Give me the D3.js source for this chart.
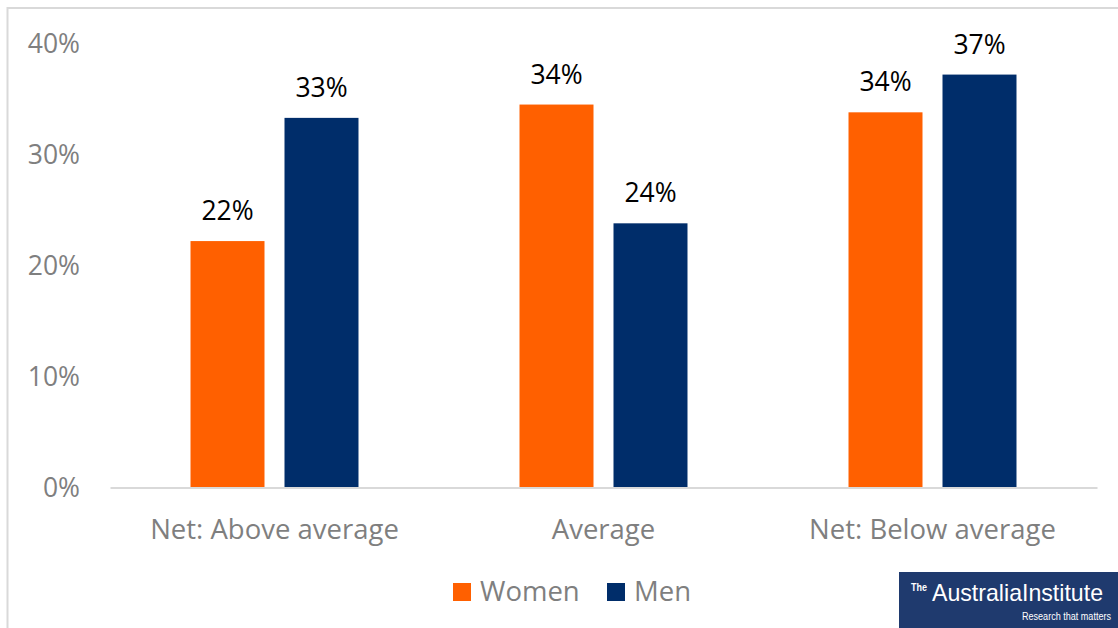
<!DOCTYPE html>
<html><head><meta charset="utf-8">
<script src="https://cdn.jsdelivr.net/npm/d3@7"></script>
<style>html,body{margin:0;padding:0;background:#fff;}svg{display:block;}</style>
</head><body>
<svg id="c" width="1118" height="628"></svg>
<script>
const categories = ["Net: Above average", "Average", "Net: Below average"];
const seriesNames = ["Women", "Men"];
const women = [0.222, 0.345, 0.338];
const men = [0.333, 0.238, 0.372];
const womenLabels = ["22%", "34%", "34%"];
const menLabels = ["33%", "24%", "37%"];
const yTicks = [0, 0.1, 0.2, 0.3, 0.4];
const colors = {Women: "#FF6000", Men: "#002D6A"};

const data = categories.map((c, i) => ({
  cat: c,
  vals: [
    {s: "Women", v: women[i], label: womenLabels[i]},
    {s: "Men", v: men[i], label: menLabels[i]}
  ]
}));

const svg = d3.select("#c");
const font = "'Open Sans', sans-serif";

// frame
svg.append("rect").attr("x", 7.5).attr("y", 8).attr("width", 1200).attr("height", 700)
  .attr("fill", "none").attr("stroke", "#d9d9d9").attr("stroke-width", 2);

const x0 = d3.scaleBand().domain(categories).range([110, 1097]).paddingInner(0.4894).paddingOuter(0.2447);
const x1 = d3.scaleBand().domain(seriesNames).range([0, x0.bandwidth()]).paddingInner(0.2128);
const y = d3.scaleLinear().domain([0, 0.4]).range([487.5, 43.5]);

// y axis labels
const yAxis = d3.axisLeft(y).tickValues(yTicks).tickFormat(d3.format(".0%")).tickSize(0).tickPadding(0);
const ya = svg.append("g").attr("transform", "translate(80,0)").call(yAxis);
ya.select(".domain").remove();
ya.selectAll("text").attr("font-family", font).attr("font-size", 26.5).attr("fill", "#7f7f7f").attr("dy", "0.35em");

// bars
const g = svg.append("g");
const groups = g.selectAll("g.cat").data(data).join("g").attr("class", "cat")
  .attr("transform", d => `translate(${x0(d.cat)},0)`);
groups.selectAll("rect").data(d => d.vals).join("rect")
  .attr("x", d => x1(d.s)).attr("width", x1.bandwidth())
  .attr("y", d => y(d.v)).attr("height", d => y(0) - y(d.v))
  .attr("fill", d => colors[d.s]);
groups.selectAll("text").data(d => d.vals).join("text")
  .attr("x", d => x1(d.s) + x1.bandwidth() / 2).attr("y", d => y(d.v) - 21)
  .attr("text-anchor", "middle").attr("font-family", font).attr("font-size", 26.5).attr("fill", "#000")
  .text(d => d.label);

// x axis
const xAxis = d3.axisBottom(x0).tickSize(0).tickPadding(0);
const xa = svg.append("g").attr("transform", `translate(0,${y(0)})`).call(xAxis);
xa.select(".domain").attr("stroke", "#d9d9d9").attr("stroke-width", 2);
xa.selectAll("text").attr("font-family", font).attr("font-size", 27.5).attr("fill", "#7f7f7f")
  .attr("dy", null).attr("y", 51);

// legend
const leg = svg.append("g");
const legPos = [{s: "Women", x: 453}, {s: "Men", x: 607}];
legPos.forEach(p => {
  leg.append("rect").attr("x", p.x).attr("y", 583).attr("width", 18).attr("height", 18).attr("fill", colors[p.s]);
  leg.append("text").attr("x", p.x + 27).attr("y", 601).attr("font-family", font).attr("font-size", 27.5)
    .attr("fill", "#7f7f7f").text(p.s);
});

// logo
const logo = svg.append("g");
const lf = "'Liberation Sans Narrow', 'Liberation Sans', sans-serif";
logo.append("rect").attr("x", 899).attr("y", 572).attr("width", 219).attr("height", 56).attr("fill", "#1F3A6E");
logo.append("text").attr("x", 911).attr("y", 591).attr("font-family", lf).attr("font-weight", "bold")
  .attr("font-size", 11).attr("fill", "#fff").attr("textLength", 16).attr("lengthAdjust", "spacingAndGlyphs").text("The");
logo.append("text").attr("x", 932).attr("y", 601).attr("font-family", lf)
  .attr("font-size", 24).attr("fill", "#fff").attr("textLength", 171).attr("lengthAdjust", "spacingAndGlyphs").text("AustraliaInstitute");
logo.append("text").attr("x", 1022).attr("y", 620).attr("font-family", lf)
  .attr("font-size", 10).attr("fill", "#fff").attr("textLength", 89).attr("lengthAdjust", "spacingAndGlyphs").text("Research that matters");
</script>
</body></html>
